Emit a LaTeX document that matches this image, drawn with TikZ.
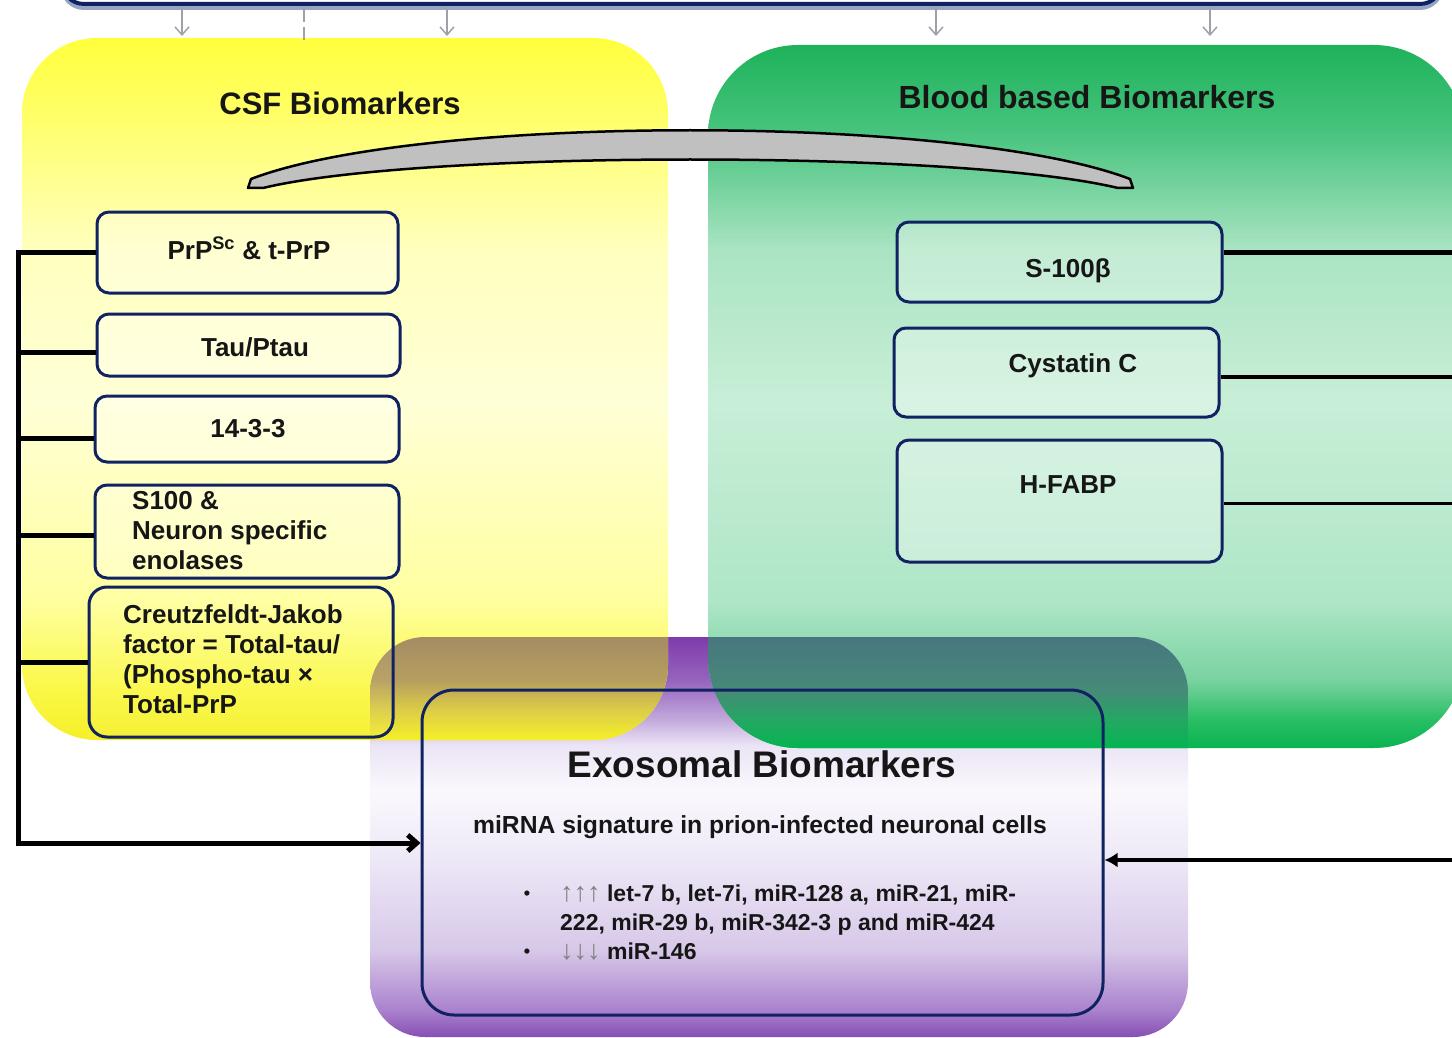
\documentclass[tikz,border=0pt]{standalone}
\usepackage{fontspec}
\setmainfont{Liberation Sans}
\usetikzlibrary{arrows.meta,calc}

% palette
\definecolor{navy}{RGB}{16,34,98}
\definecolor{navyshadow}{RGB}{150,165,195}
\definecolor{txt}{RGB}{22,22,22}
\definecolor{tickgray}{RGB}{160,160,170}
\definecolor{arcgray}{RGB}{192,192,192}
% CSF panel (yellow)
\definecolor{yA}{RGB}{245,240,40}
\definecolor{yB}{RGB}{250,248,70}
\definecolor{yC}{RGB}{255,255,160}
\definecolor{yD}{RGB}{255,255,215}
\definecolor{yE}{RGB}{255,255,190}
\definecolor{yF}{RGB}{255,255,95}
\definecolor{yG}{RGB}{255,255,60}
% blood panel (green)
\definecolor{gA}{RGB}{10,180,80}
\definecolor{gB}{RGB}{40,190,100}
\definecolor{gC}{RGB}{120,210,160}
\definecolor{gD}{RGB}{175,230,200}
\definecolor{gE}{RGB}{200,238,215}
\definecolor{gF}{RGB}{170,228,195}
\definecolor{gG}{RGB}{70,195,125}
\definecolor{gH}{RGB}{30,178,90}
% exosomal panel (purple)
\definecolor{pA}{RGB}{135,80,180}
\definecolor{pB}{RGB}{170,130,205}
\definecolor{pC}{RGB}{215,200,232}
\definecolor{pD}{RGB}{240,235,248}
\definecolor{pE}{RGB}{250,248,253}
\definecolor{pF}{RGB}{235,228,245}
\definecolor{pG}{RGB}{195,170,220}
\definecolor{pH}{RGB}{150,100,190}
\definecolor{pI}{RGB}{125,60,170}
% where the yellow panel lies over the purple one
\definecolor{oyA}{RGB}{245,240,40}
\definecolor{oyB}{RGB}{220,205,70}
\definecolor{oyC}{RGB}{182,158,95}
\definecolor{oyD}{RGB}{165,140,100}
% where the green panel lies over the purple one
\definecolor{ogA}{RGB}{5,180,80}
\definecolor{ogB}{RGB}{35,168,98}
\definecolor{ogC}{RGB}{70,138,120}
\definecolor{ogD}{RGB}{72,118,128}

\pgfdeclareverticalshading{csfshade}{100bp}{color(0bp)=(yA); color(25bp)=(yA); color(28.6bp)=(yB); color(35bp)=(yC); color(49bp)=(yD); color(60bp)=(yE); color(70.6bp)=(yF); color(75bp)=(yG); color(100bp)=(yG)}
\pgfdeclareverticalshading{bloodshade}{100bp}{color(0bp)=(gA); color(25bp)=(gA); color(27bp)=(gB); color(29.8bp)=(gC); color(35.5bp)=(gD); color(49.7bp)=(gE); color(60.4bp)=(gF); color(69bp)=(gG); color(75bp)=(gH); color(100bp)=(gH)}
\pgfdeclareverticalshading{exoshade}{100bp}{color(0bp)=(pA); color(25bp)=(pA); color(28.4bp)=(pB); color(35.9bp)=(pC); color(48.4bp)=(pD); color(55.9bp)=(pE); color(61.5bp)=(pF); color(64.6bp)=(pG); color(69.6bp)=(pH); color(75bp)=(pI); color(100bp)=(pI)}
\pgfdeclareverticalshading{csfovershade}{100bp}{color(0bp)=(oyA); color(25bp)=(oyA); color(39.6bp)=(oyB); color(54.1bp)=(oyC); color(75bp)=(oyD); color(100bp)=(oyD)}
\pgfdeclareverticalshading{bloodovershade}{100bp}{color(0bp)=(ogA); color(25bp)=(ogA); color(37.6bp)=(ogB); color(51.1bp)=(ogC); color(75bp)=(ogD); color(100bp)=(ogD)}

\newcommand\fsz[2]{\fontsize{#1}{#2}\selectfont}
% thin grey trend arrows in the miRNA list
\newcommand\trend[1]{{\mdseries\fontsize{27}{29}\selectfont\color{gray}#1}}

\tikzset{
  bx/.style={draw=navy, line width=3pt, rounded corners=12pt, fill=white,
             fill opacity=0.3, inner sep=0pt},
  lbl/.style={font=\bfseries\fsz{26}{30}, text=txt, inner sep=0pt, anchor=base},
  lbll/.style={lbl, anchor=base west},
  title/.style={font=\bfseries\fsz{31}{36}, text=txt, inner sep=0pt, anchor=base},
  exotext/.style={font=\bfseries\fsz{23}{29}, text=txt, inner sep=0pt, anchor=base west},
  branch/.style={line width=5pt, draw=black},
  thinbranch/.style={line width=3.5pt, draw=black},
  tick/.style={draw=tickgray, line width=1.5pt, -{Straight Barb[length=8pt,width=14pt]}},
}

\begin{document}
\begin{tikzpicture}[x=1pt,y=-1pt]
\useasboundingbox (0,0) rectangle (1452,1038);
\clip (0,0) rectangle (1452,1038);

% ---- coloured panels ----
\shade[shading=exoshade, rounded corners=55pt] (370,637) rectangle (1188,1037);
\shade[shading=csfshade, rounded corners=75pt] (22,38) rectangle (668,740);
\shade[shading=bloodshade, rounded corners=90pt] (708,45) rectangle (1464,748);
% the parts of the CSF and blood panels that lie over the exosomal panel
\begin{scope}
  \clip[rounded corners=55pt] (370,637) rectangle (1188,1037);
  \begin{scope}
    \clip[rounded corners=75pt] (22,38) rectangle (668,740);
    \shade[shading=csfovershade] (370,637) rectangle (668,740);
  \end{scope}
  \begin{scope}
    \clip[rounded corners=90pt] (708,45) rectangle (1464,748);
    \shade[shading=bloodovershade] (708,637) rectangle (1188,748);
  \end{scope}
\end{scope}

% ---- top frame (only its lower edge is in view) ----
\draw[navyshadow, line width=4pt, rounded corners=22pt] (62,-92) rectangle (1442,8);
\node[draw=navy, line width=4pt, rounded corners=22pt, minimum width=1380pt,
      minimum height=100pt, inner sep=0pt] (topbox) at (752,-46) {};

% feeds from the top frame into the panels
\coordinate (t1) at (182,36);
\coordinate (t2) at (447,36);
\coordinate (t3) at (936,36);
\coordinate (t4) at (1210,36);
\coordinate (t5) at (304,40);
\draw[tick] (t1 |- topbox.south) -- (t1);
\draw[tick] (t2 |- topbox.south) -- (t2);
\draw[tick] (t3 |- topbox.south) -- (t3);
\draw[tick] (t4 |- topbox.south) -- (t4);
\draw[draw=tickgray, line width=1.5pt, dash pattern=on 16pt off 5pt] (t5 |- topbox.south) -- (t5);

% ---- panel titles ----
\node[title] (csfT) at (340,115) {CSF Biomarkers};
\node[title, font=\bfseries\fsz{32}{36}] (bloodT) at (1087,109) {Blood based Biomarkers};

% ---- bridge between the two panels ----
\draw[fill=arcgray, draw=black, line width=2.5pt, line join=round]
  (248,188) -- (251,179) .. controls (420,114) and (960,114) .. (1130,179)
  -- (1133,188) -- (1118,188) .. controls (960,150) and (420,150) .. (263,188) -- cycle;

% ---- CSF marker boxes ----
\node[bx, minimum width=301pt, minimum height=81pt] (b1) at (247.5,252.5) {};
\node[bx, minimum width=303pt, minimum height=62pt] (b2) at (248.5,345) {};
\node[bx, minimum width=304pt, minimum height=66pt] (b3) at (247,429) {};
\node[bx, minimum width=304pt, minimum height=93pt] (b4) at (247,531.5) {};
\node[bx, rounded corners=18pt, fill opacity=0.05, minimum width=304pt, minimum height=150pt] (b5) at (241,662) {};

\node[lbl] (b1t) at (249,259) {PrP\textsuperscript{Sc} \& t-PrP};
\node[lbl] (b2t) at (255,356) {Tau/Ptau};
\node[lbl] (b3t) at (248,437) {14-3-3};
% multi-line labels: the base anchor sits on the last line
\node[lbll, align=left] (b4t) at (132,569) {S100 \&\\Neuron specific\\enolases};
\node[lbll, align=left] (b5t) at (123,713) {Creutzfeldt-Jakob\\factor = Total-tau/\\(Phospho-tau ×\\Total-PrP};

% ---- blood marker boxes ----
\node[bx, minimum width=325pt, minimum height=80pt] (s1) at (1059.5,262) {};
\node[bx, minimum width=325pt, minimum height=89pt] (s2) at (1056.5,372.5) {};
\node[bx, minimum width=325pt, minimum height=122pt] (s3) at (1059.5,501) {};

\node[lbl] (s1t) at (1068,277) {S-100β};
\node[lbl] (s2t) at (1073,372) {Cystatin C};
\node[lbl] (s3t) at (1068,493) {H-FABP};

% ---- exosomal box ----
\node[draw=navy, line width=3pt, rounded corners=32pt, minimum width=681pt,
      minimum height=325pt, inner sep=0pt] (exo) at (762.5,852.5) {};
\node[font=\bfseries\fsz{37}{42}, text=txt, inner sep=0pt, anchor=base] (exoT) at (762,777) {Exosomal Biomarkers};
\node[font=\bfseries\fsz{24.7}{28}, text=txt, inner sep=0pt, anchor=base] (exoS) at (760,833) {miRNA  signature in prion-infected neuronal cells};
\node[font=\bfseries\fsz{18}{22}, text=txt, inner sep=0pt, anchor=base] (bul1) at (527,899) {•};
\node[font=\bfseries\fsz{18}{22}, text=txt, inner sep=0pt, anchor=base] (bul2) at (527,957) {•};
\node[exotext, align=left] (up) at (560,930)
  {\trend{↑↑↑} let-7 b, let-7i, miR-128 a, miR-21, miR-\\222, miR-29 b, miR-342-3 p and miR-424};
\node[exotext] (down) at (560,959) {\trend{↓↓↓} miR-146};

% ---- CSF connectors into the exosomal box ----
\coordinate (busBot) at (18,843);
\coordinate (b2p) at ($(b2.west)+(0,7)$);
\coordinate (b3p) at ($(b3.west)+(0,9)$);
\coordinate (b4p) at ($(b4.west)+(0,3.5)$);
\draw[branch, line join=miter, -{Straight Barb[length=9pt,width=16pt]}]
  (b1.west) -| (busBot) -- (busBot -| exo.west);
\draw[branch] (b2p) -- (b2p -| busBot);
\draw[branch] (b3p) -- (b3p -| busBot);
\draw[branch] (b4p) -- (b4p -| busBot);
\draw[branch] (b5.west) -- (b5.west -| busBot);

% ---- blood connectors ----
\coordinate (rEdge) at (1452,860);
\coordinate (s1p) at ($(s1.north east)!0.39!(s1.south east)$);
\coordinate (s2p) at ($(s2.north east)!0.55!(s2.south east)$);
\coordinate (s3p) at ($(s3.north east)!0.52!(s3.south east)$);
\draw[branch] (s1p) -- (s1p -| rEdge);
\draw[thinbranch] (s2p) -- (s2p -| rEdge);
\draw[thinbranch] (s3p) -- (s3p -| rEdge);
\draw[thinbranch, -{Latex[length=13pt,width=15pt]}] (rEdge) -- (rEdge -| exo.east);

\end{tikzpicture}
\end{document}
